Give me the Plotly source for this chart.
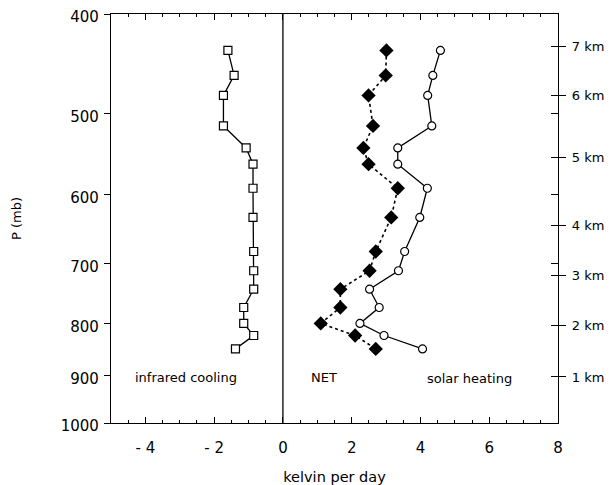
import math
import plotly.graph_objects as go

pressure = [434, 459, 480, 514, 540, 560, 591, 631, 681, 711, 741, 772, 800, 822, 847]
infrared = [-1.60, -1.42, -1.73, -1.73, -1.07, -0.87, -0.87, -0.87, -0.85, -0.85, -0.85, -1.14, -1.14, -0.85, -1.38]
solar = [4.58, 4.36, 4.21, 4.33, 3.34, 3.34, 4.20, 3.98, 3.54, 3.36, 2.52, 2.80, 2.24, 2.94, 4.06]
net = [3.01, 2.99, 2.49, 2.62, 2.34, 2.49, 3.34, 3.15, 2.70, 2.52, 1.67, 1.67, 1.10, 2.10, 2.70]

p_ticks = [400, 500, 600, 700, 800, 900, 1000]
x_ticks = [-4, -2, 0, 2, 4, 6, 8]
x_ticktext = ["- 4", "- 2", "0", "2", "4", "6", "8"]
km_pressure = [430, 480, 552, 642, 719, 803, 902]
km_labels = ["7 km", "6 km", "5 km", "4 km", "3 km", "2 km", "1 km"]
right_minor = [500, 600, 700]

FONT = "DejaVu Sans, sans-serif"
yr = [math.log10(1000), math.log10(400)]

fig = go.Figure()
fig.add_trace(go.Scatter(x=infrared, y=pressure, mode="lines+markers",
                         line=dict(color="black", width=1.3),
                         marker=dict(symbol="square", size=8, color="white", line=dict(width=1.2, color="black")),
                         showlegend=False))
fig.add_trace(go.Scatter(x=solar, y=pressure, mode="lines+markers",
                         line=dict(color="black", width=1.3),
                         marker=dict(symbol="circle", size=8, color="white", line=dict(width=1.2, color="black")),
                         showlegend=False))
fig.add_trace(go.Scatter(x=net, y=pressure, mode="lines+markers",
                         line=dict(color="black", width=1.6, dash="dot"),
                         marker=dict(symbol="diamond", size=11, color="black"),
                         showlegend=False))
# zero line
fig.add_trace(go.Scatter(x=[0, 0], y=[400, 1000], mode="lines",
                         line=dict(color="black", width=1.3), showlegend=False, hoverinfo="skip"))
# invisible traces for the right axes
fig.add_trace(go.Scatter(x=[None], y=[None], yaxis="y2", showlegend=False))
fig.add_trace(go.Scatter(x=[None], y=[None], yaxis="y3", showlegend=False))

fig.update_layout(
    width=604, height=477,
    margin=dict(l=103, r=54, t=6, b=62, autoexpand=False),
    paper_bgcolor="white", plot_bgcolor="white",
    font=dict(family=FONT, color="black", size=14),
    xaxis=dict(range=[-5, 8], tickvals=x_ticks, ticktext=x_ticktext,
               ticks="inside", ticklen=6, tickwidth=1, tickcolor="black",
               minor=dict(dtick=0.5, ticks="inside", ticklen=3, tickcolor="black", showgrid=False),
               showline=True, linecolor="black", linewidth=1.3, mirror="ticks",
               showgrid=False, zeroline=False, ticklabeloverflow="allow",
               ticklabelstandoff=11,
               tickfont=dict(size=15),
               title=dict(text="kelvin per day", font=dict(size=14.5), standoff=15)),
    yaxis=dict(type="log", range=yr, tickvals=p_ticks, ticktext=[str(v) for v in p_ticks],
               ticks="outside", ticklen=6, tickcolor="black",
               showline=True, linecolor="black", linewidth=1.3, mirror=False,
               showgrid=False, zeroline=False, tickfont=dict(size=15),
               ticklabeloverflow="allow", ticklabelshift=-3, ticklabelstandoff=2,
               title=dict(text="P (mb)", font=dict(size=13), standoff=36)),
    yaxis2=dict(type="log", range=yr, overlaying="y", side="right",
                tickvals=km_pressure, ticktext=km_labels,
                ticks="outside", ticklen=7, tickcolor="black",
                showline=True, linecolor="black", linewidth=1.3,
                ticklabeloverflow="allow", ticklabelstandoff=3,
                showgrid=False, zeroline=False, tickfont=dict(size=13)),
    yaxis3=dict(type="log", range=yr, overlaying="y", side="right",
                tickvals=km_pressure + right_minor, showticklabels=False,
                ticks="inside", ticklen=7, tickcolor="black",
                showline=False, showgrid=False, zeroline=False),
)

fig.add_annotation(x=-2.83, y=math.log10(903), text="infrared cooling", showarrow=False,
                   font=dict(size=13, family=FONT))
fig.add_annotation(x=1.2, y=math.log10(903), text="NET", showarrow=False,
                   font=dict(size=13, family=FONT))
fig.add_annotation(x=5.42, y=math.log10(906), text="solar heating", showarrow=False,
                   font=dict(size=13, family=FONT))

fig.write_html("out.html")
